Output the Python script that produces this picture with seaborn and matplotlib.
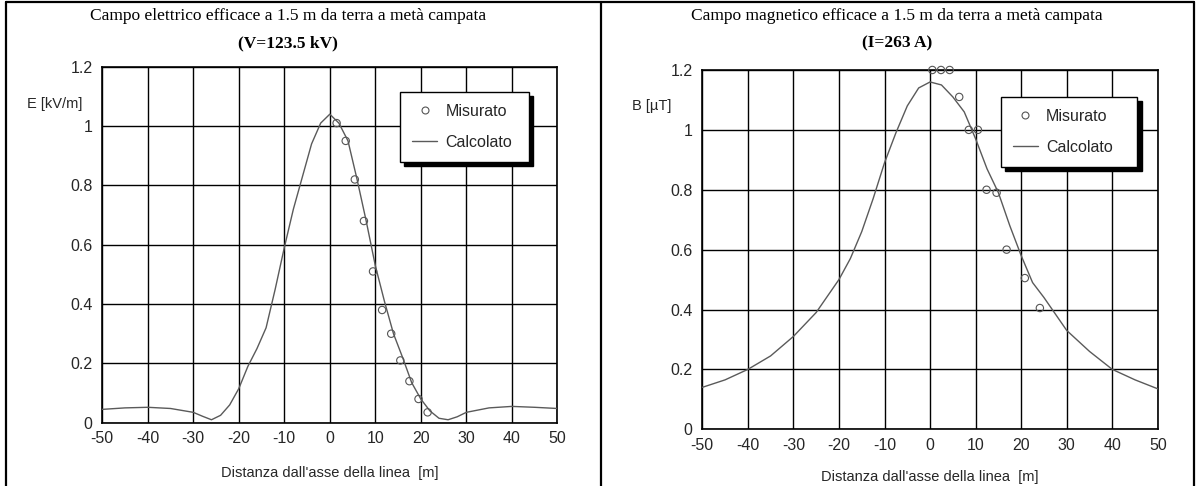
import matplotlib.pyplot as plt
from matplotlib.lines import Line2D
import seaborn as sns

# Campo elettrico: curva calcolata e punti misurati
e_calc_x = [-50, -45, -40, -35, -30, -28, -26, -24, -22, -20, -18, -16, -14, -12, -10,
            -8, -6, -4, -2, 0, 2, 4, 6, 8, 10, 12, 14, 16, 18, 20, 22, 24, 26, 28, 30,
            35, 40, 45, 50]
e_calc_y = [0.045, 0.05, 0.052, 0.048, 0.035, 0.022, 0.01, 0.025, 0.06, 0.115, 0.19,
            0.25, 0.32, 0.45, 0.59, 0.72, 0.83, 0.94, 1.01, 1.04, 1.01, 0.95, 0.82,
            0.68, 0.53, 0.41, 0.30, 0.22, 0.135, 0.08, 0.04, 0.015, 0.01, 0.02, 0.035,
            0.05, 0.055, 0.052, 0.048]
e_meas_x = [1.5, 3.5, 5.5, 7.5, 9.5, 11.5, 13.5, 15.5, 17.5, 19.5, 21.5]
e_meas_y = [1.01, 0.95, 0.82, 0.68, 0.51, 0.38, 0.30, 0.21, 0.14, 0.08, 0.035]

# Campo magnetico: curva calcolata e punti misurati
b_calc_x = [-50, -45, -40, -35, -30, -25, -20, -17.5, -15, -12.5, -10, -7.5, -5, -2.5,
            0, 2.5, 5, 7.5, 10, 12.5, 15, 17.5, 20, 22.5, 25, 30, 35, 40, 45, 50]
b_calc_y = [0.14, 0.165, 0.20, 0.245, 0.31, 0.39, 0.50, 0.57, 0.66, 0.77, 0.89, 0.99,
            1.08, 1.14, 1.16, 1.15, 1.11, 1.06, 0.97, 0.87, 0.79, 0.68, 0.58, 0.49,
            0.44, 0.33, 0.26, 0.20, 0.165, 0.135]
b_meas_x = [0.5, 2.4, 4.3, 6.4, 8.5, 10.5, 12.4, 14.6, 16.8, 20.8, 24.1]
b_meas_y = [1.2, 1.2, 1.2, 1.11, 1.0, 1.0, 0.80, 0.79, 0.60, 0.505, 0.405]

x_ticks = list(range(-50, 51, 10))
y_ticks = [0, 0.2, 0.4, 0.6, 0.8, 1, 1.2]
y_tick_labels = ["0", "0.2", "0.4", "0.6", "0.8", "1", "1.2"]

sns.set_theme(style="white")
sans = ["Liberation Sans Narrow", "Liberation Sans", "DejaVu Sans"]
serif = ["Liberation Serif", "DejaVu Serif"]
plt.rcParams["font.family"] = sans
plt.rcParams["axes.unicode_minus"] = False

fig = plt.figure(figsize=(11.99, 4.86), dpi=100)
ax_e = fig.add_axes([0.0853, 0.1302, 0.3795, 0.7325])
ax_b = fig.add_axes([0.5857, 0.1167, 0.3800, 0.7393])

panels = [
    (ax_e, e_meas_x, e_meas_y, e_calc_x, e_calc_y, "E [kV/m]", (-0.105, 0.895), -0.122,
     (0.654, 0.929, 0.283), 0.240,
     "Campo elettrico efficace a 1.5 m da terra a metà campata", "(V=123.5 kV)"),
    (ax_b, b_meas_x, b_meas_y, b_calc_x, b_calc_y, "B [µT]", (-0.112, 0.90), -0.112,
     (0.655, 0.926, 0.30), 0.748,
     "Campo magnetico efficace a 1.5 m da terra a metà campata", "(I=263 A)"),
]

for ax, mx, my, cx, cy, ylab, ypos, xlab_y, leg_box, title_x, title1, title2 in panels:
    sns.scatterplot(x=mx, y=my, ax=ax, marker="o", s=28, facecolor="none",
                    edgecolor="#555555", linewidth=0.8, clip_on=False, zorder=4)
    sns.lineplot(x=cx, y=cy, ax=ax, color="#5a5a5a", linewidth=1.0, zorder=3)

    ax.set_xlim(-50, 50)
    ax.set_ylim(0, 1.2)
    ax.set_xticks(x_ticks)
    ax.set_yticks(y_ticks)
    ax.set_yticklabels(y_tick_labels)
    ax.grid(True, color="black", linewidth=1.0)
    for sp in ax.spines.values():
        sp.set_color("black")
        sp.set_linewidth(1.2)
    ax.tick_params(axis="both", direction="out", length=4, width=1.0, color="black",
                   labelsize=11.5, pad=3)
    ax.tick_params(axis="x", pad=2)

    ax.set_ylabel(ylab, rotation=0, fontsize=10.5, ha="center", va="center")
    ax.yaxis.set_label_coords(*ypos)
    ax.set_xlabel("Distanza dall'asse della linea  [m]", fontsize=10.5)
    ax.xaxis.set_label_coords(0.5, xlab_y)

    fig.text(title_x, 0.968, title1, ha="center", va="center",
             family=serif, fontsize=12.5, color="black")
    fig.text(title_x, 0.9115, title2, ha="center", va="center",
             family=serif, fontsize=12.5, fontweight="bold", color="black")

    handles = [
        Line2D([], [], marker="o", linestyle="none", markersize=5,
               markerfacecolor="none", markeredgecolor="#555555", markeredgewidth=0.8),
        Line2D([], [], color="#5a5a5a", linewidth=1.0),
    ]
    lx, ly, lw = leg_box
    leg = ax.legend(handles, ["Misurato", "Calcolato"], loc="upper left",
                    bbox_to_anchor=(lx, ly - 0.2, lw, 0.2), mode="expand",
                    borderaxespad=0, fontsize=11.5, frameon=True,
                    fancybox=False, edgecolor="black", framealpha=1,
                    shadow={"color": "black", "alpha": 1, "ox": 3, "oy": -3},
                    handlelength=1.6, handletextpad=0.5, borderpad=0.75,
                    labelspacing=1.0)
    leg.get_frame().set_linewidth(1.0)

# cornice della tabella
for xs, ys in [([0.005, 0.005], [0, 0.995]), ([0.501, 0.501], [0, 0.995]),
               ([0.996, 0.996], [0, 0.995]), ([0.005, 0.996], [0.995, 0.995])]:
    fig.add_artist(Line2D(xs, ys, transform=fig.transFigure, color="black", linewidth=1.6))

plt.savefig("out.png", dpi=100, facecolor="white")
